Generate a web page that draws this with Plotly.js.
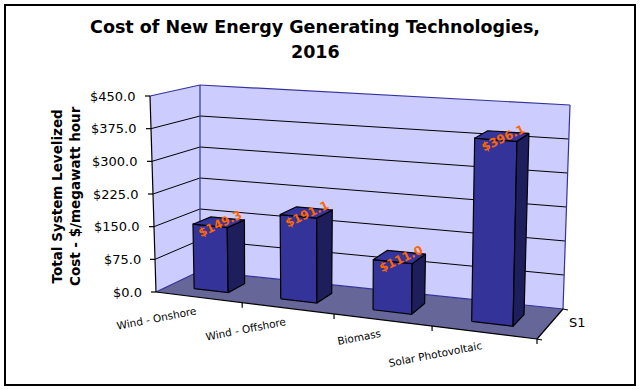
<!DOCTYPE html>
<html><head><meta charset="utf-8">
<script src="https://cdn.plot.ly/plotly-3.0.1.min.js"></script>
<style>html,body{margin:0;padding:0;background:#fff}#chart{width:640px;height:390px}</style>
</head><body><div id="chart"></div>
<script>
// ---- data ----
const categories = ["Wind - Onshore", "Wind - Offshore", "Biomass", "Solar Photovoltaic"];
const costValues = [149.3, 191.1, 111.0, 396.1];
const valueLabels = ["$149.3", "$191.1", "$111.0", "$396.1"];
const tickValues = [0, 75, 150, 225, 300, 375, 450];
const tickLabels = ["$0.0", "$75.0", "$150.0", "$225.0", "$300.0", "$375.0", "$450.0"];
const seriesName = "S1";
const yMax = 450;

// ---- 3D projection (Excel-like perspective box) ----
const FLOOR = {A:[156,292], B:[537,339], C:[563,309], D:[200,271]};
const TOP   = {A:[150,96],  B:[541.5,124], C:[570,105], D:[200,85]};
const K = 0.14;
function warp(u){ return u/(1+K*(1-u)); }
function bil(Q, s, v){
  const x = (1-v)*((1-s)*Q.A[0]+s*Q.B[0]) + v*((1-s)*Q.D[0]+s*Q.C[0]);
  const y = (1-v)*((1-s)*Q.A[1]+s*Q.B[1]) + v*((1-s)*Q.D[1]+s*Q.C[1]);
  return [x,y];
}
function P(u, v, val){
  const s = warp(u);
  const f = bil(FLOOR, s, v), t = bil(TOP, s, v);
  const r = val / yMax;
  return [f[0]+(t[0]-f[0])*r, f[1]+(t[1]-f[1])*r];
}

const traces = [];
function poly(pts, fill, lineColor, lw){
  const xs = pts.map(p=>p[0]).concat([pts[0][0]]);
  const ys = pts.map(p=>p[1]).concat([pts[0][1]]);
  traces.push({type:'scatter', mode:'lines', x:xs, y:ys, fill:'toself', fillcolor:fill,
    line:{color:lineColor||fill, width: lw===undefined?0:lw}, hoverinfo:'skip', showlegend:false});
}
function segs(list, color, width){
  const xs=[], ys=[];
  list.forEach(([p,q])=>{ xs.push(p[0],q[0],null); ys.push(p[1],q[1],null); });
  traces.push({type:'scatter', mode:'lines', x:xs, y:ys, line:{color:color, width:width},
    hoverinfo:'skip', showlegend:false, connectgaps:false});
}

// walls & floor
poly([P(0,0,0),P(0,1,0),P(0,1,yMax),P(0,0,yMax)], '#CCCCFF');
poly([P(0,1,0),P(1,1,0),P(1,1,yMax),P(0,1,yMax)], '#CCCCFF');
poly([P(0,0,0),P(1,0,0),P(1,1,0),P(0,1,0)], '#666699');

// gridlines
const grid = [];
tickValues.forEach(h=>{ if(h>0 && h<yMax){ grid.push([P(0,0,h),P(0,1,h)]); grid.push([P(0,1,h),P(1,1,h)]); } });
segs(grid, '#000000', 1);

// blue wall edges
segs([[P(0,0,yMax),P(0,1,yMax)],[P(0,1,yMax),P(1,1,yMax)],[P(1,1,0),P(1,1,yMax)],
      [P(0,1,0),P(0,1,yMax)],[P(0,1,0),P(1,1,0)],[P(0,0,0),P(0,1,0)]], '#333399', 1.2);

// black axes + ticks
const axisSegs = [[P(0,0,0),P(0,0,yMax)],[P(0,0,0),P(1,0,0)],[P(1,0,0),P(1,1,0)]];
tickValues.forEach(h=>{ const p=P(0,0,h); axisSegs.push([p,[p[0]-5,p[1]]]); });
for(let i=1;i<=categories.length;i++){ const p=P(i/categories.length,0,0); axisSegs.push([p,[p[0],p[1]+5]]); }
[0,1].forEach(v=>{ const p=P(1,v,0); axisSegs.push([p,[p[0]+5,p[1]+1]]); });
segs(axisSegs, '#000000', 1.2);

// bars
const n = categories.length;
const v0 = 0.3, v1 = 0.7;
costValues.forEach((val,i)=>{
  const u0 = (i+0.3)/n, u1 = (i+0.7)/n;
  poly([P(u0,v0,0),P(u1,v0,0),P(u1,v0,val),P(u0,v0,val)], '#333399', '#000000', 1.2);
  poly([P(u1,v0,0),P(u1,v1,0),P(u1,v1,val),P(u1,v0,val)], '#1E1E5C', '#000000', 1.2);
  poly([P(u0,v0,val),P(u1,v0,val),P(u1,v1,val),P(u0,v1,val)], '#35359E', '#000000', 1.2);
});

// annotations
const FONT = 'DejaVu Sans';
const ann = [];
ann.push({xref:'x', yref:'y', x:315, y:52, text:'2016', showarrow:false, xanchor:'center', yanchor:'middle',
  font:{family:FONT, size:17.5, weight:'bold', color:'#000'}});
ann.push({xref:'x', yref:'y', x:66, y:196, text:'Total System Levelized<br>Cost - $/megawatt hour', showarrow:false,
  textangle:-90, xanchor:'center', yanchor:'middle', font:{family:FONT, size:13.5, weight:'bold', color:'#000'}});
tickValues.forEach((h,k)=>{
  const p = P(0,0,h);
  ann.push({xref:'x', yref:'y', x:p[0]-12, y:p[1], text:tickLabels[k], showarrow:false, xanchor:'right', yanchor:'middle',
    font:{family:FONT, size:13, color:'#000'}});
});
const cv = document.createElement('canvas').getContext('2d');
cv.font = "10.5px 'DejaVu Sans'";
const th = 11*Math.PI/180;
categories.forEach((c,i)=>{
  const p = P((i+0.5)/n, 0, 0);
  const w = cv.measureText(c).width;
  ann.push({xref:'x', yref:'y', x:p[0]-2-(w/2)*Math.cos(th), y:p[1]+13+(w/2)*Math.sin(th), text:c, showarrow:false,
    textangle:-11, xanchor:'center', yanchor:'middle', font:{family:FONT, size:10.5, color:'#000'}});
});
costValues.forEach((val,i)=>{
  const p = P((i+0.5)/n, 0.45, val);
  ann.push({xref:'x', yref:'y', x:p[0]+3, y:p[1]+1, text:valueLabels[i], showarrow:false, textangle:-25,
    xanchor:'center', yanchor:'middle', font:{family:FONT, size:12, weight:'bold', color:'#FF6600'}});
});
const sp = P(1,0.5,0);
ann.push({xref:'x', yref:'y', x:sp[0]+17, y:sp[1]-2, text:seriesName, showarrow:false, xanchor:'left', yanchor:'middle',
  font:{family:FONT, size:13, color:'#000'}});

const layout = {
  width:640, height:390, margin:{l:0,r:0,t:0,b:0}, paper_bgcolor:'#fff', plot_bgcolor:'#fff',
  showlegend:false,
  title:{text:'Cost of New Energy Generating Technologies,', x:315/640, xanchor:'center', xref:'paper',
    y:1-27/390, yanchor:'middle', yref:'container', font:{family:FONT, size:17.5, weight:'bold', color:'#000'}},
  xaxis:{range:[0,640], visible:false, fixedrange:true},
  yaxis:{range:[390,0], visible:false, fixedrange:true},
  annotations: ann,
  shapes:[{type:'rect', xref:'x', yref:'y', x0:5, y0:5, x1:635, y1:385, line:{color:'#000', width:2}}]
};
Plotly.newPlot('chart', traces, layout, {displayModeBar:false, staticPlot:true});
</script></body></html>
